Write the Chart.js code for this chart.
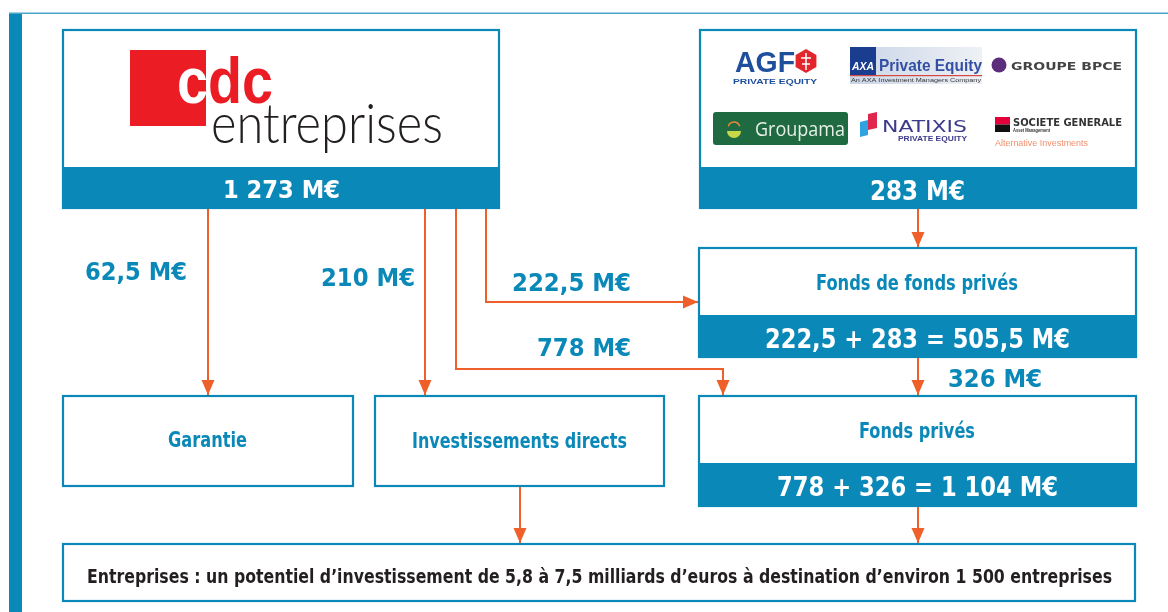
<!DOCTYPE html>
<html>
<head>
<meta charset="utf-8">
<script src="https://cdn.jsdelivr.net/npm/chart.js@4"></script>
<style>
  html, body { margin: 0; padding: 0; background: #fff; }
  #wrap { width: 1168px; height: 612px; position: relative; }
</style>
</head>
<body>
<div id="wrap"><canvas id="flow-chart"></canvas></div>
<script>
// Amounts in M€
const sourceNames = ['CDC Entreprises', 'Investisseurs privés'];
const sourceValues = [1273, 283];
const flowNames = ['Garantie', 'Investissements directs', 'Fonds de fonds privés', 'Fonds privés', 'Fonds privés (via fonds de fonds)'];
const flowValues = [62.5, 210, 222.5, 778, 326];
const footerText = 'Entreprises : un potentiel d\u2019investissement de 5,8 à 7,5 milliards d\u2019euros à destination d\u2019environ 1 500 entreprises';

const BLUE = '#0a88b8';
const ORANGE = '#ef5f2a';
const DARK = '#231f20';

// french number format: 1 273 / 62,5
const fmt = v => {
    const s = String(v).split('.');
    const ip = s[0].replace(/\B(?=(\d{3})+(?!\d))/g, ' ');
    return s.length > 1 ? ip + ',' + s[1] : ip;
};

// diagram layout (page units)
const boxes = {
    cdc:      { x0: 62,  y0: 29,  x1: 500,  y1: 209, band: 167 },
    privates: { x0: 699, y0: 29,  x1: 1137, y1: 209, band: 167 },
    fdf:      { x0: 698, y0: 247, x1: 1137, y1: 358, band: 315 },
    fp:       { x0: 698, y0: 395, x1: 1137, y1: 507, band: 463 },
    garantie: { x0: 62,  y0: 395, x1: 354,  y1: 487 },
    direct:   { x0: 374, y0: 395, x1: 665,  y1: 487 },
    bottom:   { x0: 62,  y0: 543, x1: 1136, y1: 602 }
};
// routes of the flows, same order as flowValues
const flowRoutes = [
    [[208, 209], [208, 395]],
    [[425, 209], [425, 395]],
    [[486, 209], [486, 302], [698, 302]],
    [[456, 209], [456, 369], [723, 369], [723, 395]],
    [[918, 358], [918, 395]]
];
// label spans of the flows [x0, x1, baseline]
const flowLabelPos = [[85, 187, 280], [321, 415, 286], [512, 631, 291], [537, 631, 356], [948, 1042, 387]];
// other links without amount
const extraRoutes = [
    [[918, 209], [918, 247]],
    [[520, 487], [520, 543]],
    [[918, 507], [918, 543]]
];

const allRoutes = flowRoutes.concat(extraRoutes);

const datasets = allRoutes.map((r, i) => ({
    label: i < flowNames.length ? flowNames[i] : 'lien',
    data: r.map(p => ({ x: p[0], y: p[1] })),
    showLine: true,
    borderColor: ORANGE,
    borderWidth: 2,
    pointRadius: 0,
    fill: false,
    tension: 0
}));

// text stretched to a given span, baseline at y
function fitText(ctx, str, x0, x1, y, font, color) {
    ctx.save();
    ctx.font = font;
    ctx.fillStyle = color;
    ctx.textBaseline = 'alphabetic';
    ctx.textAlign = 'left';
    const w = ctx.measureText(str).width;
    ctx.translate(x0, y);
    ctx.scale((x1 - x0) / w, 1);
    ctx.fillText(str, 0, 0);
    ctx.restore();
}

const diagramPlugin = {
    id: 'diagram',
    beforeDatasetsDraw(chart) {
        const ctx = chart.ctx;
        const px = v => chart.scales.x.getPixelForValue(v);
        const py = v => chart.scales.y.getPixelForValue(v);

        // frame: left bar and top rule
        ctx.save();
        ctx.fillStyle = BLUE;
        ctx.fillRect(px(9), py(13), px(22) - px(9), py(612) - py(13));
        ctx.fillStyle = '#4aa6cc';
        ctx.fillRect(px(9), py(12.5), px(1168) - px(9), 1.5);

        Object.values(boxes).forEach(b => {
            ctx.fillStyle = '#fff';
            ctx.fillRect(px(b.x0), py(b.y0), px(b.x1) - px(b.x0), py(b.y1) - py(b.y0));
            ctx.strokeStyle = BLUE;
            ctx.lineWidth = 2.2;
            ctx.strokeRect(px(b.x0) + 1, py(b.y0) + 1, px(b.x1) - px(b.x0) - 2, py(b.y1) - py(b.y0) - 2);
            if (b.band) {
                ctx.fillStyle = BLUE;
                ctx.fillRect(px(b.x0), py(b.band), px(b.x1) - px(b.x0), py(b.y1) - py(b.band));
            }
        });
        ctx.restore();
    },
    afterDatasetsDraw(chart) {
        const ctx = chart.ctx;
        const px = v => chart.scales.x.getPixelForValue(v);
        const py = v => chart.scales.y.getPixelForValue(v);
        const F = '"Liberation Sans Narrow", "DejaVu Sans Condensed", Roboto, sans-serif';

        // arrow heads
        ctx.save();
        ctx.fillStyle = ORANGE;
        allRoutes.forEach(r => {
            const a = r[r.length - 2], b = r[r.length - 1];
            const x1 = px(b[0]), y1 = py(b[1]);
            const ang = Math.atan2(py(b[1]) - py(a[1]), px(b[0]) - px(a[0]));
            const L = 15, W = 6.5;
            ctx.beginPath();
            ctx.moveTo(x1, y1);
            ctx.lineTo(x1 - L * Math.cos(ang) + W * Math.sin(ang), y1 - L * Math.sin(ang) - W * Math.cos(ang));
            ctx.lineTo(x1 - L * Math.cos(ang) - W * Math.sin(ang), y1 - L * Math.sin(ang) + W * Math.cos(ang));
            ctx.closePath();
            ctx.fill();
        });
        ctx.restore();

        // flow amounts
        flowValues.forEach((v, i) => {
            const p = flowLabelPos[i];
            fitText(ctx, fmt(v) + ' M€', px(p[0]), px(p[1]), py(p[2]), 'bold 24px ' + F, BLUE);
        });

        // source amounts in the bands
        fitText(ctx, fmt(sourceValues[0]) + ' M€', px(223), px(340), py(198), 'bold 25px ' + F, '#fff');
        fitText(ctx, fmt(sourceValues[1]) + ' M€', px(870), px(965), py(200), 'bold 26px ' + F, '#fff');

        // fund boxes
        const fdfTotal = flowValues[2] + sourceValues[1];
        fitText(ctx, 'Fonds de fonds privés', px(816), px(1018), py(290), 'bold 21px ' + F, BLUE);
        fitText(ctx, fmt(flowValues[2]) + ' + ' + fmt(sourceValues[1]) + ' = ' + fmt(fdfTotal) + ' M€',
            px(765), px(1070), py(348), 'bold 27px ' + F, '#fff');
        const fpTotal = flowValues[3] + flowValues[4];
        fitText(ctx, 'Fonds privés', px(859), px(975), py(438), 'bold 21px ' + F, BLUE);
        fitText(ctx, fmt(flowValues[3]) + ' + ' + fmt(flowValues[4]) + ' = ' + fmt(fpTotal) + ' M€',
            px(777), px(1058), py(496), 'bold 27px ' + F, '#fff');
        fitText(ctx, flowNames[0], px(168), px(247), py(447), 'bold 21px ' + F, BLUE);
        fitText(ctx, flowNames[1], px(412), px(627), py(448), 'bold 21px ' + F, BLUE);
        fitText(ctx, footerText, px(87), px(1112), py(583), 'bold 19px ' + F, DARK);

        // cdc entreprises logo
        ctx.save();
        ctx.fillStyle = '#ec1c24';
        ctx.fillRect(px(130), py(50), px(206) - px(130), py(126) - py(50));
        fitText(ctx, 'cdc', px(177), px(273), py(103), 'bold 64px "Liberation Sans", Arial, sans-serif', '#ec1c24');
        ctx.beginPath();
        ctx.rect(px(130), py(50), px(206) - px(130), py(126) - py(50));
        ctx.clip();
        fitText(ctx, 'cdc', px(177), px(273), py(103), 'bold 64px "Liberation Sans", Arial, sans-serif', '#fff');
        ctx.restore();
        fitText(ctx, 'entreprises', px(211), px(443), py(143), '300 56px Lato, "Liberation Sans", sans-serif', DARK);

        // partner logos
        ctx.save();
        // AGF
        fitText(ctx, 'AGF', px(735), px(795), py(72), 'bold 30px "Liberation Sans", sans-serif', '#1d4f9c');
        ctx.fillStyle = '#e3262b';
        ctx.beginPath();
        for (let k = 0; k < 6; k++) {
            const a = Math.PI / 6 + k * Math.PI / 3;
            const hx = px(806) + 12 * Math.cos(a), hy = py(61) + 12 * Math.sin(a);
            k ? ctx.lineTo(hx, hy) : ctx.moveTo(hx, hy);
        }
        ctx.closePath();
        ctx.fill();
        ctx.strokeStyle = '#fff';
        ctx.lineWidth = 1.5;
        ctx.beginPath();
        ctx.moveTo(px(806), py(53)); ctx.lineTo(px(806), py(70));
        ctx.moveTo(px(801), py(58)); ctx.lineTo(px(811), py(58));
        ctx.moveTo(px(802), py(64)); ctx.lineTo(px(810), py(64));
        ctx.stroke();
        fitText(ctx, 'PRIVATE EQUITY', px(733), px(817), py(84), 'bold 8px "Liberation Sans", sans-serif', '#1d4f9c');

        // AXA Private Equity
        const g = ctx.createLinearGradient(px(850), 0, px(982), 0);
        g.addColorStop(0, '#c9d5e6'); g.addColorStop(1, '#eef1f6');
        ctx.fillStyle = g;
        ctx.fillRect(px(850), py(47), px(982) - px(850), py(84) - py(47));
        ctx.fillStyle = '#1b3d8f';
        ctx.fillRect(px(850), py(47), px(876) - px(850), py(75) - py(47));
        fitText(ctx, 'AXA', px(852), px(874), py(70), 'bold italic 10px "Liberation Sans", sans-serif', '#fff');
        fitText(ctx, 'Private Equity', px(879), px(982), py(71), 'bold 17px "Liberation Sans", sans-serif', '#3450a4');
        ctx.fillStyle = '#d8473f';
        ctx.fillRect(px(850), py(75), px(982) - px(850), 1.2);
        fitText(ctx, 'An AXA Investment Managers Company', px(851), px(981), py(82), '6px "Liberation Sans", sans-serif', '#333');

        // Groupe BPCE
        ctx.fillStyle = '#5b2d7b';
        ctx.beginPath(); ctx.arc(px(999), py(65), 7.5, 0, Math.PI * 2); ctx.fill();
        fitText(ctx, 'GROUPE BPCE', px(1011), px(1122), py(70), 'bold 11px "DejaVu Sans", sans-serif', '#444');

        // Groupama
        ctx.fillStyle = '#1f6a40';
        ctx.beginPath();
        ctx.roundRect(px(713), py(112), px(848) - px(713), py(145) - py(112), 3);
        ctx.fill();
        ctx.fillStyle = '#c9d84a';
        ctx.beginPath(); ctx.arc(px(734), py(131), 7, 0, Math.PI); ctx.fill();
        ctx.strokeStyle = '#e58a3a'; ctx.lineWidth = 1.5;
        ctx.beginPath(); ctx.arc(px(734), py(128), 6, Math.PI * 1.1, Math.PI * 1.9); ctx.stroke();
        fitText(ctx, 'Groupama', px(755), px(845), py(136), '20px "Open Sans", sans-serif', '#e6efe8');

        // Natixis
        ctx.fillStyle = '#e0264d';
        ctx.beginPath();
        ctx.moveTo(px(868), py(114)); ctx.lineTo(px(877), py(112)); ctx.lineTo(px(877), py(128)); ctx.lineTo(px(868), py(130));
        ctx.closePath(); ctx.fill();
        ctx.fillStyle = '#2ea3e0';
        ctx.beginPath();
        ctx.moveTo(px(860), py(122)); ctx.lineTo(px(868), py(120)); ctx.lineTo(px(868), py(135)); ctx.lineTo(px(860), py(137));
        ctx.closePath(); ctx.fill();
        fitText(ctx, 'NATIXIS', px(882), px(967), py(132), '16px "DejaVu Sans", sans-serif', '#3c3a8a');
        fitText(ctx, 'PRIVATE EQUITY', px(898), px(967), py(141), 'bold 7px "Liberation Sans", sans-serif', '#3c3a8a');

        // Société Générale
        ctx.fillStyle = '#e4003a';
        ctx.fillRect(px(995), py(117), px(1010) - px(995), py(124.5) - py(117));
        ctx.fillStyle = '#111';
        ctx.fillRect(px(995), py(124.5), px(1010) - px(995), py(132) - py(124.5));
        fitText(ctx, 'SOCIETE GENERALE', px(1013), px(1122), py(126), 'bold 10px "DejaVu Sans", sans-serif', '#333');
        fitText(ctx, 'Asset Management', px(1013), px(1050), py(132), 'bold 5px "Liberation Sans", sans-serif', '#333');
        fitText(ctx, 'Alternative Investments', px(995), px(1088), py(146), '9px "Liberation Sans", sans-serif', '#f0906e');
        ctx.restore();
    }
};

const ctx = document.getElementById('flow-chart').getContext('2d');
new Chart(ctx, {
    type: 'scatter',
    data: { datasets: datasets },
    options: {
        responsive: true,
        maintainAspectRatio: false,
        animation: false,
        devicePixelRatio: 1,
        layout: { padding: 0 },
        plugins: { legend: { display: false }, tooltip: { enabled: false } },
        scales: {
            x: { type: 'linear', min: 0, max: 1168, display: false },
            y: { type: 'linear', min: 0, max: 612, reverse: true, display: false }
        }
    },
    plugins: [diagramPlugin]
});
</script>
</body>
</html>
